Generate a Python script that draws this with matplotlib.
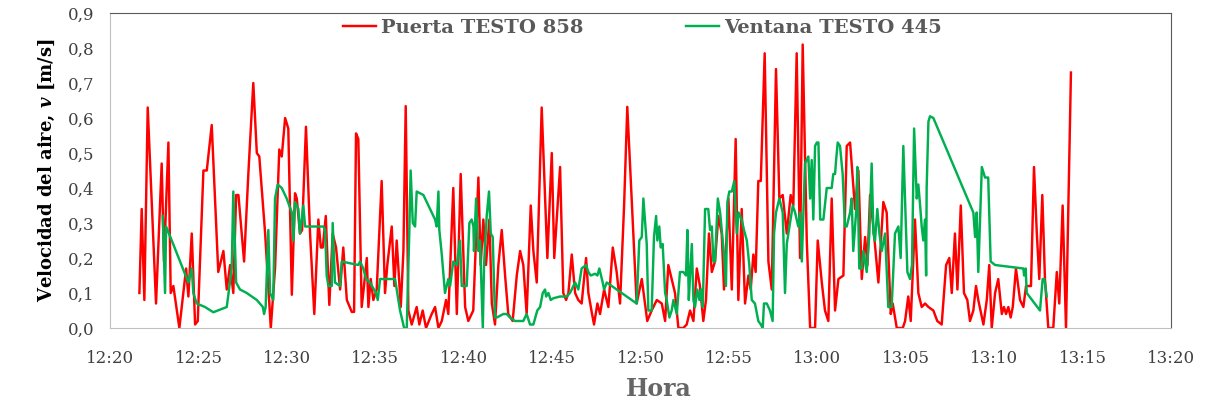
import numpy as np
import pandas as pd
import matplotlib
matplotlib.use('Agg')
import matplotlib.pyplot as plt
import matplotlib.dates as mdates
from matplotlib.ticker import FuncFormatter, MultipleLocator

# minutos despues de las 12:20 y velocidad [m/s]
puerta_t = [1.66, 1.79, 1.94, 2.13, 2.60, 2.92, 3.05, 3.30, 3.43, 3.58, 3.92, 4.30, 4.43, 4.62, 4.81,
            4.96, 5.28, 5.47, 5.75, 6.12, 6.41, 6.60, 6.79, 6.97, 7.13, 7.26, 7.58, 7.82, 8.10, 8.30,
            8.44, 8.77, 9.09, 9.33, 9.57, 9.71, 9.90, 10.08, 10.28, 10.46, 10.56, 10.74, 10.86, 11.08,
            11.31, 11.55, 11.78, 11.92, 12.03, 12.20, 12.40, 12.59, 12.78, 13.01, 13.19, 13.39, 13.67,
            13.80, 13.91, 14.04, 14.23, 14.36, 14.52, 14.61, 14.74, 14.89, 15.08, 15.36, 15.55, 15.68,
            15.93, 16.08, 16.21, 16.44, 16.59, 16.72, 16.87, 17.06, 17.34, 17.49, 17.68, 17.87, 18.19,
            18.38, 18.57, 18.76, 19.00, 19.13, 19.41, 19.61, 19.83, 20.08, 20.26, 20.54, 20.83, 20.96,
            21.11, 21.26, 21.45, 21.59, 21.77, 21.96, 22.15, 22.34, 22.52, 22.77, 23.00, 23.19, 23.37,
            23.56, 23.79, 23.94, 24.13, 24.41, 24.73, 24.98, 25.12, 25.45, 25.63, 25.79, 25.92, 26.11,
            26.30, 26.48, 26.67, 26.92, 27.05, 27.24, 27.37, 27.56, 27.71, 27.94, 28.18, 28.43, 28.65,
            28.84, 29.07, 29.25, 29.59, 29.78, 30.07, 30.38, 30.63, 30.92, 31.20, 31.39, 31.57, 31.76,
            31.95, 32.14, 32.42, 32.61, 32.80, 32.99, 33.18, 33.36, 33.55, 33.70, 33.87, 34.03, 34.21,
            34.40, 34.59, 34.72, 34.97, 35.16, 35.38, 35.53, 35.72, 35.91, 36.10, 36.23, 36.38, 36.51,
            36.66, 36.80, 37.02, 37.23, 37.42, 37.66, 37.85, 38.04, 38.27, 38.49, 38.64, 38.83, 39.02,
            39.17, 39.40, 39.59, 39.87, 40.02, 40.25, 40.43, 40.62, 40.81, 41.00, 41.19, 41.47, 41.66,
            41.85, 42.03, 42.13, 42.32, 42.51, 42.70, 42.83, 42.98, 43.20, 43.45, 43.73, 43.92, 44.15,
            44.26, 44.49, 44.83, 44.96, 45.14, 45.28, 45.52, 45.71, 45.90, 46.09, 46.28, 46.56, 46.78,
            47.03, 47.28, 47.46, 47.60, 47.78, 47.92, 48.11, 48.29, 48.48, 48.63, 48.82, 48.97, 49.10,
            49.39, 49.58, 49.72, 49.86, 50.05, 50.23, 50.43, 50.55, 50.67, 50.80, 50.93, 51.05, 51.23,
            51.46, 51.65, 51.80, 51.99, 52.08, 52.25, 52.41, 52.55, 52.72, 52.87, 53.06, 53.34, 53.54,
            53.68, 53.87, 54.06, 54.34]
puerta_v = [0.10, 0.34, 0.08, 0.63, 0.07, 0.47, 0.19, 0.53, 0.10, 0.12, 0.00, 0.17, 0.09, 0.27, 0.01,
            0.02, 0.45, 0.45, 0.58, 0.16, 0.22, 0.11, 0.18, 0.10, 0.38, 0.38, 0.19, 0.44, 0.70, 0.50,
            0.49, 0.27, 0.00, 0.17, 0.51, 0.49, 0.60, 0.57, 0.095, 0.385, 0.37, 0.27, 0.28, 0.575,
            0.27, 0.04, 0.31, 0.23, 0.23, 0.32, 0.066, 0.27, 0.23, 0.11, 0.23, 0.08, 0.046,
            0.046, 0.556, 0.54, 0.06, 0.12, 0.20, 0.06, 0.14, 0.08, 0.11, 0.42, 0.10, 0.18,
            0.29, 0.12, 0.25, 0.06, 0.22, 0.634, 0.05, 0.01, 0.06, 0.01, 0.05, 0.00, 0.04,
            0.06, 0.00, 0.02, 0.08, 0.04, 0.40, 0.04, 0.44, 0.06, 0.02, 0.05, 0.43, 0.18,
            0.31, 0.18, 0.31, 0.07, 0.01, 0.18, 0.28, 0.15, 0.04, 0.02, 0.15, 0.22, 0.18,
            0.04, 0.35, 0.22, 0.13, 0.63, 0.20, 0.50, 0.20, 0.46, 0.10, 0.08, 0.10, 0.21,
            0.10, 0.08, 0.07, 0.20, 0.10, 0.045, 0.01, 0.07, 0.04, 0.11, 0.06, 0.23, 0.16,
            0.07, 0.35, 0.632, 0.27, 0.07, 0.14, 0.02, 0.05, 0.08, 0.07, 0.02, 0.18, 0.14,
            0.10, 0.00, 0.00, 0.01, 0.05, 0.02, 0.17, 0.12, 0.02, 0.08, 0.27, 0.16, 0.19,
            0.32, 0.27, 0.11, 0.37, 0.11, 0.54, 0.08, 0.34, 0.07, 0.15, 0.11, 0.21, 0.16,
            0.42, 0.42, 0.785, 0.19, 0.11, 0.74, 0.37, 0.38, 0.27, 0.38, 0.35, 0.785, 0.20,
            0.81, 0.25, 0.00, 0.00, 0.25, 0.13, 0.05, 0.02, 0.37, 0.05, 0.14, 0.15, 0.52,
            0.53, 0.41, 0.34, 0.45, 0.14, 0.26, 0.18, 0.38, 0.27, 0.13, 0.36, 0.33, 0.04,
            0.07, 0.00, 0.00, 0.02, 0.09, 0.02, 0.31, 0.10, 0.06, 0.07, 0.06, 0.05, 0.02,
            0.01, 0.18, 0.20, 0.10, 0.27, 0.11, 0.35, 0.10, 0.08, 0.02, 0.05, 0.12, 0.08,
            0.01, 0.08, 0.18, 0.00, 0.10, 0.14, 0.04, 0.06, 0.04, 0.06, 0.03, 0.06, 0.17,
            0.08, 0.06, 0.12, 0.12, 0.12, 0.46, 0.27, 0.14, 0.38, 0.14, 0.00, 0.00, 0.16,
            0.07, 0.35, 0.00, 0.73]

ventana_t = [2.98, 3.11, 3.17, 3.49, 3.96, 4.43, 4.62, 4.71, 4.90, 5.37, 5.84, 6.60, 6.88, 6.97, 7.13,
             7.35, 7.73, 8.30, 8.64, 8.71, 8.80, 8.95, 9.05, 9.23, 9.33, 9.48, 9.71, 9.99, 10.28,
             10.37, 10.46, 10.65, 10.74, 10.84, 10.93, 11.03, 11.12, 12.06, 12.16, 12.25, 12.35,
             12.54, 12.59, 12.72, 13.01, 13.10, 14.04, 14.14, 14.32, 14.48, 14.70, 15.04, 15.14,
             15.27, 16.12, 16.21, 16.40, 16.63, 16.78, 16.93, 17.00, 17.12, 17.25, 17.34, 17.72,
             18.38, 18.47, 18.57, 18.62, 18.76, 18.94, 19.13, 19.23, 19.41, 19.61, 19.79, 19.89,
             20.17, 20.32, 20.45, 20.55, 20.58, 20.70, 20.83, 20.92, 21.08, 21.15, 21.30, 21.43,
             21.53, 21.64, 21.77, 21.87, 22.24, 22.43, 22.62, 22.90, 23.37, 23.56, 23.75, 23.94,
             24.16, 24.32, 24.47, 24.60, 24.66, 24.79, 24.92, 25.07, 25.45, 25.83, 26.01, 26.30,
             26.48, 26.67, 26.92, 27.05, 27.18, 27.43, 27.56, 27.67, 27.86, 27.94, 28.09, 29.78,
             29.93, 30.07, 30.16, 30.35, 30.44, 30.63, 30.76, 30.88, 30.95, 31.06, 31.14, 31.25,
             31.39, 31.48, 31.63, 31.76, 31.86, 32.05, 32.23, 32.42, 32.57, 32.65, 32.73, 32.80,
             32.90, 32.99, 33.08, 33.21, 33.33, 33.42, 33.52, 33.65, 33.83, 33.93, 34.03, 34.12,
             34.21, 34.37, 34.50, 34.65, 34.72, 34.83, 34.91, 35.02, 35.16, 35.30, 35.44, 35.55,
             35.72, 35.85, 36.01, 36.15, 36.29, 36.47, 36.66, 36.80, 36.91, 36.98, 37.14, 37.32,
             37.47, 37.55, 37.66, 37.85, 38.04, 38.17, 38.27, 38.42, 38.61, 38.74, 38.92, 39.02,
             39.12, 39.21, 39.30, 39.49, 39.59, 39.68, 39.77, 39.87, 39.97, 40.06, 40.16, 40.34,
             40.53, 40.81, 40.90, 41.00, 41.06, 41.15, 41.28, 41.43, 41.56, 41.66, 41.85, 41.94,
             42.03, 42.19, 42.26, 42.37, 42.51, 42.60, 42.79, 42.94, 43.07, 43.17, 43.26, 43.39,
             43.51, 43.64, 43.83, 44.01, 44.20, 44.39, 44.58, 44.71, 44.86, 44.97, 45.09, 45.24,
             45.35, 45.47, 45.62, 45.71, 45.81, 45.90, 45.99, 46.09, 46.15, 46.18, 46.28, 46.37,
             46.56, 48.82, 48.92, 49.01, 49.10, 49.21, 49.30, 49.48, 49.66, 49.80, 50.05, 51.65,
             51.69, 51.78, 51.84, 52.59, 52.74, 52.84, 52.97]
ventana_v = [0.32, 0.10, 0.29, 0.25, 0.19, 0.13, 0.17, 0.10, 0.07, 0.06, 0.045, 0.06, 0.17, 0.39, 0.13,
             0.11, 0.10, 0.08, 0.06, 0.04, 0.06, 0.28, 0.10, 0.08, 0.37, 0.41, 0.40, 0.37, 0.33,
             0.25, 0.36, 0.34, 0.27, 0.31, 0.35, 0.29, 0.29, 0.29, 0.28, 0.15, 0.12,
             0.12, 0.30, 0.13, 0.12, 0.19, 0.18, 0.19, 0.17, 0.14, 0.13, 0.10, 0.08,
             0.14, 0.14, 0.11, 0.05, 0.00, 0.00, 0.29, 0.45, 0.30, 0.29, 0.39, 0.38,
             0.31, 0.29, 0.39, 0.28, 0.21, 0.10, 0.14, 0.12, 0.19, 0.18, 0.25, 0.12,
             0.12, 0.30, 0.31, 0.29, 0.22, 0.37, 0.22, 0.25, 0.00, 0.18, 0.32, 0.39,
             0.27, 0.26, 0.03, 0.03, 0.04, 0.04, 0.03, 0.02, 0.02, 0.04, 0.01, 0.01,
             0.05, 0.06, 0.10, 0.11, 0.09, 0.10, 0.08, 0.085, 0.09, 0.09, 0.10, 0.13,
             0.11, 0.17, 0.18, 0.16, 0.15, 0.155, 0.15, 0.17, 0.13, 0.11, 0.13, 0.07,
             0.25, 0.26, 0.37, 0.24, 0.05, 0.05, 0.26, 0.32, 0.25, 0.29, 0.23, 0.24,
             0.10, 0.08, 0.03, 0.05, 0.08, 0.04, 0.16, 0.16, 0.15, 0.28, 0.08, 0.15,
             0.24, 0.08, 0.06, 0.11, 0.08, 0.11, 0.06, 0.34, 0.34, 0.28, 0.29, 0.19,
             0.19, 0.37, 0.33, 0.25, 0.21, 0.12, 0.36, 0.39, 0.39, 0.42, 0.27, 0.33,
             0.31, 0.28, 0.25, 0.18, 0.08, 0.07, 0.02, 0.01, 0.00, 0.07, 0.07, 0.05,
             0.02, 0.27, 0.33, 0.37, 0.33, 0.10, 0.24, 0.29, 0.35, 0.33, 0.29, 0.33,
             0.19, 0.33, 0.47, 0.49, 0.37, 0.48, 0.31, 0.52, 0.53, 0.53, 0.31, 0.31,
             0.40, 0.40, 0.44, 0.44, 0.48, 0.53, 0.52, 0.44, 0.29, 0.29, 0.33, 0.37,
             0.22, 0.33, 0.46, 0.17, 0.17, 0.22, 0.16, 0.27, 0.47, 0.27, 0.25, 0.34,
             0.27, 0.22, 0.27, 0.06, 0.06, 0.27, 0.29, 0.20, 0.52, 0.35, 0.16, 0.14,
             0.18, 0.57, 0.37, 0.41, 0.35, 0.29, 0.25, 0.31, 0.15, 0.40, 0.59, 0.605,
             0.60, 0.33, 0.26, 0.33, 0.16, 0.33, 0.46, 0.43, 0.43, 0.19, 0.18, 0.17,
             0.15, 0.17, 0.10, 0.05, 0.14, 0.14, 0.09]

inicio = pd.Timestamp('2021-01-01 12:20:00')
hora_p = inicio + pd.to_timedelta(puerta_t, unit='min')
hora_v = inicio + pd.to_timedelta(ventana_t, unit='min')

plt.rcParams['font.family'] = 'DejaVu Serif'
plt.rcParams['mathtext.fontset'] = 'dejavuserif'

fig = plt.figure(figsize=(12.08, 4.03), dpi=100)
ax = fig.add_axes([0.0911, 0.1861, 0.8783, 0.7816])

ax.plot(hora_p, puerta_v, color='#FF0000', lw=1.75, label='Puerta TESTO 858')
ax.plot(hora_v, ventana_v, color='#00B050', lw=1.75, label='Ventana TESTO 445')

ax.set_xlim(inicio, inicio + pd.Timedelta(minutes=60))
ax.set_ylim(0, 0.9)
ax.xaxis.set_major_locator(mdates.MinuteLocator(byminute=range(0, 60, 5)))
ax.xaxis.set_major_formatter(mdates.DateFormatter('%H:%M'))
ax.yaxis.set_major_locator(MultipleLocator(0.1))
ax.yaxis.set_major_formatter(FuncFormatter(lambda v, p: f'{v:.1f}'.replace('.', ',')))
ax.tick_params(axis='both', length=0, labelsize=12, labelcolor='#404040')
ax.tick_params(axis='x', pad=16)
ax.tick_params(axis='y', pad=11)

ax.spines['left'].set_color('#bfbfbf')
ax.spines['bottom'].set_color('#bfbfbf')
ax.spines['top'].set_color('#595959')
ax.spines['right'].set_color('#595959')

ax.set_ylabel(r'Velocidad del aire, $\mathbfit{v}$ [m/s]', fontsize=13, fontweight='bold', labelpad=8)
ax.set_xlabel('Hora', fontsize=17, fontweight='bold', color='#666666', labelpad=7)
ax.xaxis.label.set_x(0.517)

leg = ax.legend(loc='upper left', bbox_to_anchor=(0.2196, 0.981), ncol=2, frameon=False,
                prop={'weight': 'bold', 'size': 14}, handlelength=1.7, handletextpad=0.25,
                columnspacing=5.3, borderaxespad=0, borderpad=0)
for t in leg.get_texts():
    t.set_color('#595959')

fig.savefig('out.png', dpi=100)
